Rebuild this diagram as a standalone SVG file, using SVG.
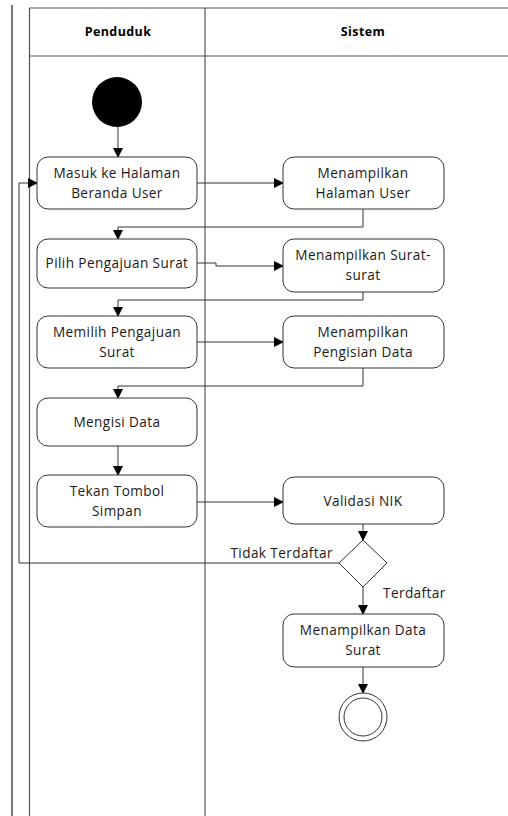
<svg xmlns="http://www.w3.org/2000/svg" width="508" height="816" viewBox="0 0 508 816">
<defs>
<marker id="ah" markerWidth="10" markerHeight="10" refX="9" refY="5" orient="auto" markerUnits="userSpaceOnUse">
<path d="M0,0 L10,5 L0,10 z" fill="#000"/>
</marker>
<style>
.lane{stroke:#555;stroke-width:1.2;fill:none}
.box{fill:#fff;stroke:#333;stroke-width:1}
.t{font-family:"Open Sans","Liberation Sans",sans-serif;font-size:13.6px;letter-spacing:0.4px;fill:#1a1a1a;text-anchor:middle}
.h{font-family:"Open Sans","Liberation Sans",sans-serif;font-size:12.5px;font-weight:bold;letter-spacing:0.4px;fill:#000;text-anchor:middle}
.c{stroke:#333;stroke-width:1;fill:none}
.ca{stroke:#333;stroke-width:1;fill:none;marker-end:url(#ah)}
</style>
</defs>
<rect width="508" height="816" fill="#fff"/>
<g id="pool">
<line class="lane" x1="12" y1="5" x2="12" y2="816" style="stroke:#222"/>
<line class="lane" x1="29.5" y1="8" x2="29.5" y2="816"/>
<line class="lane" x1="29" y1="8" x2="508" y2="8"/>
<line class="lane" x1="29" y1="56" x2="508" y2="56"/>
<line class="lane" x1="205" y1="8" x2="205" y2="816"/>
<text class="h" x="118" y="36">Penduduk</text>
<text class="h" x="363" y="36">Sistem</text>
</g>
<g id="connectors">
<path class="ca" d="M118,127 V157"/>
<path class="ca" d="M197,183 H283"/>
<path class="ca" d="M363,209 V227 H118 V239"/>
<path class="ca" d="M197,263 H216 V266 H283"/>
<path class="ca" d="M363,292 V300 H118 V316"/>
<path class="ca" d="M197,342 H283"/>
<path class="ca" d="M363,368 V386 H118 V398"/>
<path class="ca" d="M118,446 V475"/>
<path class="ca" d="M197,502 H283"/>
<path class="ca" d="M363,524 V540"/>
<path class="ca" d="M339,563 H19 V183 H37"/>
<path class="ca" d="M363,587 V614"/>
<path class="ca" d="M363,667 V693"/>
<text class="t" x="333" y="558" style="text-anchor:end">Tidak Terdaftar</text>
<text class="t" x="383" y="598" style="text-anchor:start">Terdaftar</text>
</g>
<g id="start"><circle cx="117" cy="102" r="25" fill="#000"/></g>
<g id="masuk"><rect class="box" x="37" y="157" width="160" height="52" rx="11"/>
<text class="t" x="117" y="178">Masuk ke Halaman</text><text class="t" x="117" y="198">Beranda User</text></g>
<g id="halaman-user"><rect class="box" x="283" y="157" width="161" height="52" rx="11"/>
<text class="t" x="363" y="178">Menampilkan</text><text class="t" x="363" y="198">Halaman User</text></g>
<g id="pilih"><rect class="box" x="37" y="239" width="160" height="49" rx="11"/>
<text class="t" x="117" y="268">Pilih Pengajuan Surat</text></g>
<g id="surat-surat"><rect class="box" x="283" y="239" width="161" height="53" rx="11"/>
<text class="t" x="363" y="260">Menampilkan Surat-</text><text class="t" x="363" y="280">surat</text></g>
<g id="memilih"><rect class="box" x="37" y="316" width="160" height="52" rx="11"/>
<text class="t" x="117" y="337">Memilih Pengajuan</text><text class="t" x="117" y="357">Surat</text></g>
<g id="pengisian"><rect class="box" x="283" y="316" width="161" height="52" rx="11"/>
<text class="t" x="363" y="337">Menampilkan</text><text class="t" x="363" y="357">Pengisian Data</text></g>
<g id="mengisi"><rect class="box" x="37" y="398" width="160" height="48" rx="11"/>
<text class="t" x="117" y="427">Mengisi Data</text></g>
<g id="tekan"><rect class="box" x="37" y="475" width="160" height="52" rx="11"/>
<text class="t" x="117" y="496">Tekan Tombol</text><text class="t" x="117" y="516">Simpan</text></g>
<g id="validasi"><rect class="box" x="283" y="477" width="161" height="47" rx="11"/>
<text class="t" x="363" y="506">Validasi NIK</text></g>
<g id="decision"><path class="box" d="M363,540 L387,563 L363,587 L339,563 Z"/></g>
<g id="data-surat"><rect class="box" x="283" y="614" width="161" height="53" rx="11"/>
<text class="t" x="363" y="635">Menampilkan Data</text><text class="t" x="363" y="655">Surat</text></g>
<g id="end"><circle cx="363" cy="717" r="24" fill="#fff" stroke="#333" stroke-width="1"/><circle cx="363" cy="717" r="19" fill="#fff" stroke="#333" stroke-width="1"/></g>
</svg>
